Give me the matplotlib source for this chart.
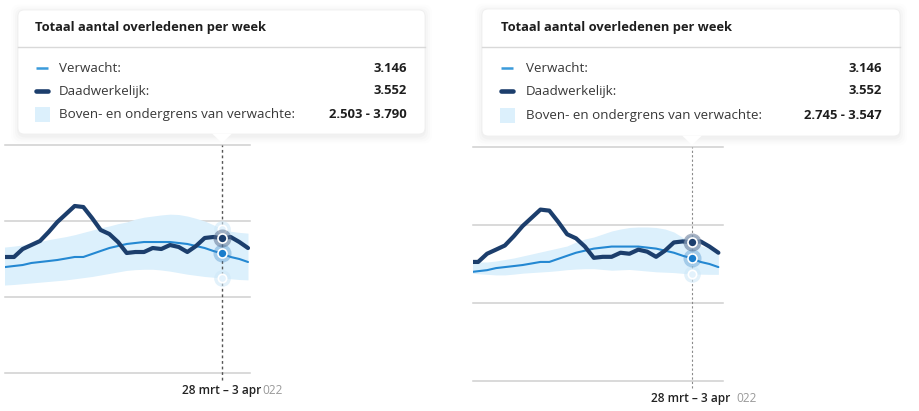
import matplotlib
matplotlib.use("Agg")
import matplotlib.pyplot as plt
from matplotlib.patches import FancyBboxPatch, Rectangle, Polygon

plt.rcParams['font.family'] = ['Open Sans', 'DejaVu Sans']

# ---------------- data ----------------
weeks = list(range(30))
hover_index = 26
hover_label = "28 mrt \u2013 3 apr"
year_fragment = "022"

actual = [3053, 3053, 3053, 3263, 3368, 3474, 3711, 3974, 4184, 4395,
          4368, 4079, 3763, 3658, 3447, 3158, 3184, 3184, 3289, 3263,
          3368, 3316, 3184, 3342, 3553, 3579, 3552, 3579, 3447, 3289]
expected = [2763, 2789, 2816, 2842, 2895, 2921, 2947, 2974, 3013, 3053,
            3053, 3132, 3211, 3289, 3342, 3395, 3421, 3447, 3447, 3447,
            3447, 3421, 3395, 3342, 3289, 3211, 3146, 3053, 3000, 2921]

# left panel band
upper_left = [3290, 3316, 3340, 3370, 3420, 3460, 3510, 3550, 3590, 3640,
              3700, 3760, 3820, 3870, 3930, 3975, 4050, 4100, 4130, 4160,
              4180, 4170, 4130, 4070, 4000, 3900, 3790, 3730, 3700, 3680]
lower_left = [2300, 2316, 2330, 2350, 2370, 2390, 2410, 2430, 2450, 2480,
              2510, 2540, 2580, 2620, 2660, 2700, 2720, 2730, 2730, 2710,
              2680, 2640, 2600, 2570, 2540, 2520, 2503, 2480, 2460, 2450]

# right panel band
upper_right = [3000, 3026, 3051, 3051, 3077, 3115, 3154, 3205, 3256, 3308,
               3359, 3410, 3462, 3564, 3641, 3692, 3769, 3846, 3897, 3936,
               3949, 3949, 3936, 3897, 3820, 3680, 3547, 3470, 3400, 3330]
lower_right = [2790, 2770, 2750, 2735, 2720, 2720, 2740, 2765, 2780, 2795,
               2810, 2830, 2855, 2870, 2880, 2880, 2860, 2840, 2850, 2860,
               2840, 2820, 2800, 2790, 2780, 2760, 2745, 2740, 2735, 2735]

y_ticks = [0, 2000, 4000, 6000]

title = "Totaal aantal overledenen per week"
row_labels = ["Verwacht:", "Daadwerkelijk:", "Boven- en ondergrens van verwachte:"]

# ---------------- styles ----------------
C_DARK = '#1c3e6c'
C_BLUE = '#2488d2'
C_LEG_BLUE = '#3b9bdb'
C_BAND = '#dcf0fc'
C_GRID = '#cfcfcf'

W, H = 919, 411
fig = plt.figure(figsize=(W / 100, H / 100), dpi=100)
fig.patch.set_facecolor('white')


def fmt(v):
    return f"{v:,}".replace(",", ".")


def panel(rect_px, xlim, upper, lower, vline_color, vline_lw):
    x0, y_top, x1, y_bot = rect_px
    ax = fig.add_axes([x0 / W, (H - y_bot) / H, (x1 - x0) / W, (y_bot - y_top) / H])
    ax.set_xlim(*xlim)
    ax.set_ylim(y_ticks[0], y_ticks[-1])
    ax.set_yticks(y_ticks)
    ax.set_xticks([])
    ax.tick_params(left=False, labelleft=False)
    for s in ax.spines.values():
        s.set_visible(False)
    ax.grid(axis='y', color=C_GRID, lw=1.1)
    for gl in ax.get_ygridlines():
        gl.set_clip_on(False)
    ax.set_axisbelow(True)
    ax.patch.set_alpha(0)

    ax.fill_between(weeks, lower, upper, color=C_BAND, lw=0, zorder=1)
    ax.axvline(hover_index, ymin=-0.03, ymax=1.0, color=vline_color, lw=vline_lw,
               ls=(0, (2, 2)), clip_on=False, zorder=2)
    ax.plot(weeks, expected, color=C_BLUE, lw=1.5, zorder=3,
            solid_joinstyle='round', solid_capstyle='round')
    ax.plot(weeks, actual, color=C_DARK, lw=3.0, zorder=4,
            solid_joinstyle='round', solid_capstyle='round')

    i = hover_index
    # band markers
    for v in (upper[i], lower[i]):
        ax.plot([i], [v], 'o', ms=12, color='#cfe8f8', alpha=0.6, mew=0, zorder=5)
        ax.plot([i], [v], 'o', ms=6, color='#e3f2fc', mec='white', mew=1.2, zorder=5)
    # expected
    ax.plot([i], [expected[i]], 'o', ms=13, color='#3b86c6', alpha=0.35, mew=0, zorder=6)
    ax.plot([i], [expected[i]], 'o', ms=6.5, color='#1a7dcc', mec='white', mew=1.2, zorder=6)
    # actual
    ax.plot([i], [actual[i]], 'o', ms=13, color='#55698a', alpha=0.5, mew=0, zorder=7)
    ax.plot([i], [actual[i]], 'o', ms=6.5, color=C_DARK, mec='white', mew=1.2, zorder=7)
    return ax


ax_l = panel((5, 145, 250, 373), (0.96, 29.23), upper_left, lower_left, '#555555', 1.0)
ax_r = panel((473, 147, 723, 381), (1.42, 29.52), upper_right, lower_right, '#8a8a8a', 0.8)

# ---------------- overlay: tooltips and labels ----------------
ov = fig.add_axes([0, 0, 1, 1])
ov.set_xlim(0, W)
ov.set_ylim(H, 0)
ov.axis('off')
ov.set_zorder(10)


def tooltip(box, pointer_x, text_x, rows_y, sep_y, head_y, sym_x, lab_x, val_x, upper, lower):
    bx0, by0, bx1, by1 = box
    # shadow
    for k, a in enumerate([0.018, 0.014, 0.01, 0.007]):
        pad = 1.5 + 2 * k
        sh = FancyBboxPatch((bx0 - pad + 0.5, by0 - pad + 2), bx1 - bx0 + 2 * pad - 1,
                            by1 - by0 + 2 * pad, boxstyle="round,pad=0,rounding_size=8",
                            fc='black', ec='none', alpha=a, zorder=1)
        ov.add_patch(sh)
    bg = FancyBboxPatch((bx0, by0), bx1 - bx0, by1 - by0,
                        boxstyle="round,pad=0,rounding_size=6",
                        fc='white', ec='#efefef', lw=0.6, zorder=2)
    ov.add_patch(bg)
    ov.add_patch(Polygon([(pointer_x - 10, by1 - 0.5), (pointer_x + 10, by1 - 0.5),
                          (pointer_x, by1 + 9)], closed=True, fc='white',
                         ec='none', zorder=3))
    ov.text(text_x, head_y, title, fontsize=9.3, fontweight='bold', color='#1e1e1e',
            va='center', ha='left', zorder=4)
    ov.plot([bx0, bx1], [sep_y, sep_y], color='#d9d9d9', lw=1.0, zorder=4)
    # symbols
    ov.plot([sym_x + 1, sym_x + 13], [rows_y[0], rows_y[0]], color=C_LEG_BLUE, lw=1.8,
            solid_capstyle='butt', zorder=4)
    ov.plot([sym_x + 1, sym_x + 13], [rows_y[1], rows_y[1]], color=C_DARK, lw=3.3,
            solid_capstyle='round', zorder=4)
    ov.add_patch(Rectangle((sym_x, rows_y[2] - 7.5), 15, 15, fc=C_BAND, ec='none', zorder=4))
    i = hover_index
    values = [fmt(expected[i]), fmt(actual[i]), f"{fmt(lower[i])} - {fmt(upper[i])}"]
    for y, lab, val in zip(rows_y, row_labels, values):
        ov.text(lab_x, y, lab, fontsize=9.6, color='#383838', va='center', ha='left', zorder=4)
        ov.text(val_x, y, val, fontsize=9.4, fontweight='bold', color='#1e1e1e',
                va='center', ha='right', zorder=4)


tooltip((18, 10, 425, 134), 222, 35, [68, 91, 114], 47, 28, 35, 59, 407,
        upper_left, lower_left)
tooltip((482, 9, 900, 136), 692, 501, [68, 91, 115], 47, 27, 500, 526, 882,
        upper_right, lower_right)

# x labels
for cx, cy, yx in [(221.5, 390, 262), (691, 398, 736)]:
    ov.text(cx, cy, hover_label, fontsize=8.6, fontweight='semibold', color='#222222',
            ha='center', va='center', zorder=4)
    ov.text(yx, cy, year_fragment, fontsize=8.6, color='#9a9a9a',
            ha='left', va='center', zorder=4)

fig.savefig('out.png', dpi=100, facecolor='white')
